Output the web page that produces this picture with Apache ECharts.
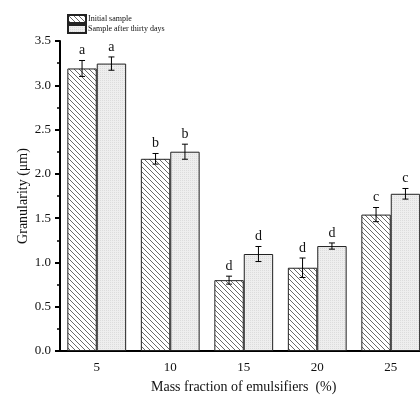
<!DOCTYPE html>
<html>
<head>
<meta charset="utf-8">
<script src="https://cdn.jsdelivr.net/npm/echarts@6/dist/echarts.min.js"></script>
<style>
  html, body { margin: 0; padding: 0; background: #fff; }
  #chart { width: 420px; height: 396px; }
</style>
</head>
<body>
<div id="chart"></div>
<script>
const categories = ['5', '10', '15', '20', '25'];
const initialVals = [3.19, 2.17, 0.80, 0.94, 1.54];
const initialErr = [0.09, 0.06, 0.045, 0.11, 0.08];
const initialLetters = ['a', 'b', 'd', 'd', 'c'];
const afterVals = [3.245, 2.25, 1.095, 1.185, 1.775];
const afterErr = [0.075, 0.085, 0.085, 0.035, 0.06];
const afterLetters = ['a', 'b', 'd', 'd', 'c'];
const seriesNames = ['Initial sample', 'Sample after thirty days'];

const serif = "'Liberation Serif', 'DejaVu Serif', serif";

// diagonal hatch tile for the first series
function hatchPattern() {
  const c = document.createElement('canvas');
  c.width = 5; c.height = 5;
  const ctx = c.getContext('2d');
  ctx.fillStyle = '#fff';
  ctx.fillRect(0, 0, 5, 5);
  ctx.strokeStyle = '#6a6a6a';
  ctx.lineWidth = 1;
  ctx.beginPath();
  ctx.moveTo(0, 0); ctx.lineTo(5, 5);
  ctx.moveTo(-1, 4); ctx.lineTo(1, 6);
  ctx.moveTo(4, -1); ctx.lineTo(6, 1);
  ctx.stroke();
  return { image: c, repeat: 'repeat' };
}

// fine light dots for the second series
function dotPattern() {
  const c = document.createElement('canvas');
  c.width = 2; c.height = 2;
  const ctx = c.getContext('2d');
  ctx.fillStyle = '#eeeeee';
  ctx.fillRect(0, 0, 2, 2);
  ctx.fillStyle = '#dcdcdc';
  ctx.fillRect(0, 0, 1, 1);
  return { image: c, repeat: 'repeat' };
}

function errorSeries(vals, errs, letters, side) {
  return {
    type: 'custom',
    z: 5,
    silent: true,
    data: vals.map((v, i) => [i, v, errs[i], letters[i]]),
    renderItem(params, api) {
      const idx = api.value(0);
      const v = api.value(1);
      const e = api.value(2);
      const band = api.size([1, 0])[0];
      const dx = side * band * 0.2;
      const top = api.coord([idx, v + e]);
      const bot = api.coord([idx, v - e]);
      const x = top[0] + dx;
      const cap = 3;
      const st = { stroke: '#000', lineWidth: 1 };
      return {
        type: 'group',
        children: [
          { type: 'line', shape: { x1: x, y1: top[1], x2: x, y2: bot[1] }, style: st },
          { type: 'line', shape: { x1: x - cap, y1: top[1], x2: x + cap, y2: top[1] }, style: st },
          { type: 'line', shape: { x1: x - cap, y1: bot[1], x2: x + cap, y2: bot[1] }, style: st },
          { type: 'text', x: x, y: top[1] - 3,
            style: { text: letters[idx], fill: '#111', font: '14px ' + serif,
              textAlign: 'center', textVerticalAlign: 'bottom' } }
        ]
      };
    }
  };
}

const chart = echarts.init(document.getElementById('chart'));
chart.setOption({
  animation: false,
  backgroundColor: '#fff',
  title: {
    text: 'Mass fraction of emulsifiers  (%)',
    left: 151, top: 380,
    padding: 0,
    textStyle: { fontFamily: serif, fontSize: 14, fontWeight: 'normal', color: '#111' }
  },
  legend: {
    data: seriesNames,
    orient: 'vertical',
    left: 67, top: 14,
    padding: 0,
    icon: 'rect',
    itemWidth: 18, itemHeight: 8, itemGap: 0,
    textStyle: { fontFamily: serif, fontSize: 8, color: '#111', lineHeight: 9, padding: [0, 0, 0, -3] }
  },
  grid: { left: 60, top: 41, width: 367.5, height: 310, outerBoundsMode: 'none' },
  xAxis: {
    type: 'category',
    data: categories,
    axisLine: { lineStyle: { color: '#000', width: 2 } },
    axisTick: { show: false },
    axisLabel: { fontFamily: serif, fontSize: 13, color: '#111', margin: 10 }
  },
  yAxis: {
    type: 'value',
    min: 0, max: 3.5, interval: 0.5,
    name: 'Granularity (μm)',
    nameLocation: 'middle',
    nameGap: 30,
    nameMoveOverlap: false,
    nameTextStyle: { fontFamily: serif, fontSize: 14, color: '#111' },
    axisLine: { show: true, lineStyle: { color: '#000', width: 2 } },
    axisTick: { show: true, length: 5, lineStyle: { color: '#000', width: 2 } },
    minorTick: { show: true, splitNumber: 2, length: 3, lineStyle: { color: '#000', width: 1.5 } },
    splitLine: { show: false },
    axisLabel: { fontFamily: serif, fontSize: 13, color: '#111', margin: 9,
      formatter: v => v.toFixed(1) }
  },
  series: [
    {
      name: seriesNames[0], type: 'bar',
      data: initialVals, barWidth: '40%', barGap: '0%',
      itemStyle: { color: hatchPattern(), borderColor: '#222', borderWidth: 1 }
    },
    {
      name: seriesNames[1], type: 'bar',
      data: afterVals, barWidth: '40%', barGap: '0%',
      itemStyle: { color: dotPattern(), borderColor: '#222', borderWidth: 1 }
    },
    errorSeries(initialVals, initialErr, initialLetters, -1),
    errorSeries(afterVals, afterErr, afterLetters, 1)
  ]
});
</script>
</body>
</html>
